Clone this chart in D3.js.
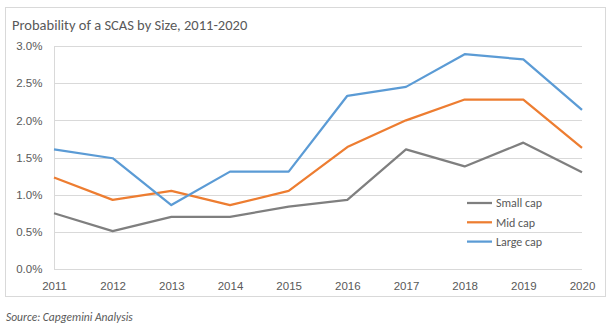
<!DOCTYPE html>
<html>
<head>
<meta charset="utf-8">
<script src="https://cdn.jsdelivr.net/npm/d3@7"></script>
<style>
  body { margin: 0; background: #fff; }
  svg { font-family: Carlito, Calibri, Lato, sans-serif; }
  .axis path, .axis line { display: none; }
  .axis text { fill: #595959; font-size: 11.5px; }
</style>
</head>
<body>
<div id="chart"></div>
<script>
  // data
  var years = [2011, 2012, 2013, 2014, 2015, 2016, 2017, 2018, 2019, 2020];
  var smallCap = [0.75, 0.51, 0.70, 0.70, 0.84, 0.93, 1.61, 1.38, 1.70, 1.30];
  var midCap = [1.23, 0.93, 1.05, 0.86, 1.05, 1.64, 2.00, 2.28, 2.28, 1.63];
  var largeCap = [1.61, 1.49, 0.86, 1.31, 1.31, 2.33, 2.45, 2.89, 2.82, 2.14];
  var yTicks = [0, 0.5, 1.0, 1.5, 2.0, 2.5, 3.0];
  var seriesNames = ["Small cap", "Mid cap", "Large cap"];
  var colors = ["#7f7f7f", "#ed7d31", "#5b9bd5"];

  var series = [smallCap, midCap, largeCap];

  // set the dimensions and margins of the graph
  var margin = {top: 46, right: 32, bottom: 61, left: 54},
    width = 614 - margin.left - margin.right,
    height = 330 - margin.top - margin.bottom;

  var svg = d3.select("#chart").append("svg")
    .attr("width", 614)
    .attr("height", 330);

  // outer frame
  svg.append("rect")
    .attr("x", 5.5).attr("y", 7.5)
    .attr("width", 600).attr("height", 289)
    .attr("fill", "none")
    .attr("stroke", "#d9d9d9");

  svg.append("text")
    .attr("x", 12).attr("y", 30)
    .attr("fill", "#595959")
    .style("font-size", "14.5px")
    .text("Probability of a SCAS by Size, 2011-2020");

  svg.append("text")
    .attr("x", 6).attr("y", 321)
    .attr("fill", "#595959")
    .style("font-size", "11.5px")
    .style("font-style", "italic")
    .text("Source:  Capgemini Analysis");

  var g = svg.append("g")
    .attr("transform", "translate(" + margin.left + "," + margin.top + ")");

  var x = d3.scalePoint().domain(years).range([0, width]);
  var y = d3.scaleLinear().domain([0, 3]).range([height, 0]);

  // gridlines
  g.selectAll("line.grid")
    .data(yTicks)
    .enter().append("line")
      .attr("class", "grid")
      .attr("x1", 0).attr("x2", width)
      .attr("y1", d => Math.round(y(d)) + 0.5)
      .attr("y2", d => Math.round(y(d)) + 0.5)
      .attr("stroke", "#d9d9d9");

  // left axis line
  g.append("line")
    .attr("x1", 0.5).attr("x2", 0.5)
    .attr("y1", Math.round(y(3)) + 0.5).attr("y2", Math.round(y(0)) + 0.5)
    .attr("stroke", "#d9d9d9");

  g.append("g")
    .attr("class", "axis")
    .attr("transform", "translate(-4,0)")
    .call(d3.axisLeft(y).tickValues(yTicks).tickSize(0).tickFormat(d => d.toFixed(1) + "%"))
    .selectAll("text").attr("dx", "-0.4em");

  g.append("g")
    .attr("class", "axis")
    .attr("transform", "translate(0," + height + ")")
    .call(d3.axisBottom(x).tickSize(0).tickPadding(13));

  var line = d3.line()
    .x((d, i) => x(years[i]))
    .y(d => y(d));

  g.selectAll("path.series")
    .data(series)
    .enter().append("path")
      .attr("class", "series")
      .attr("d", line)
      .attr("fill", "none")
      .attr("stroke", (d, i) => colors[i])
      .attr("stroke-width", 2.25)
      .attr("stroke-linejoin", "round");

  // legend
  var legend = g.selectAll("g.legend")
    .data(seriesNames)
    .enter().append("g")
      .attr("class", "legend")
      .attr("transform", (d, i) => "translate(" + (467 - margin.left) + "," + (157 + i * 19.3) + ")");

  legend.append("line")
    .attr("x1", 0).attr("x2", 25)
    .attr("stroke", (d, i) => colors[i])
    .attr("stroke-width", 2.25);

  legend.append("text")
    .attr("x", 29).attr("dy", "0.35em")
    .attr("fill", "#595959")
    .style("font-size", "12px")
    .text(d => d);
</script>
</body>
</html>
